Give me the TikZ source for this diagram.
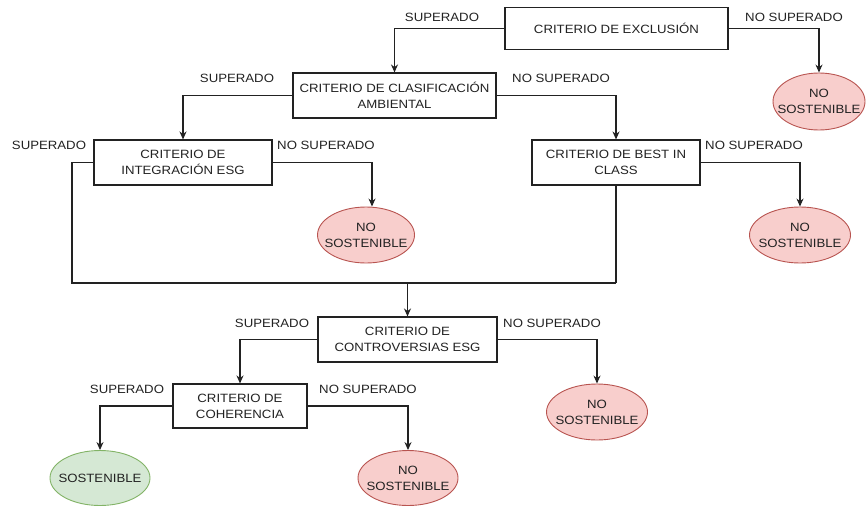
\documentclass[tikz,border=0pt]{standalone}
\usepackage{fontspec}
\setmainfont[FakeStretch=1.1]{Liberation Sans}
\usetikzlibrary{shapes.geometric,arrows.meta}
\definecolor{redfill}{HTML}{F8CECC}
\definecolor{redline}{HTML}{B85450}
\definecolor{greenfill}{HTML}{D5E8D4}
\definecolor{greenline}{HTML}{82B366}
\definecolor{ink}{HTML}{222222}
\begin{document}
\begin{tikzpicture}[x=1pt,y=-1pt,
  every node/.style={font=\fontsize{12}{16}\selectfont, text=ink},
  critbox/.style={draw=ink, line width=1.1pt, fill=white, rectangle, align=center, inner sep=2pt},
  nosost/.style={draw=redline, line width=0.9pt, fill=redfill, ellipse, inner sep=0pt,
     label={[align=center, inner sep=0pt, text=ink]center:NO\\SOSTENIBLE}},
  sost/.style={draw=greenline, line width=0.9pt, fill=greenfill, ellipse, inner sep=0pt,
     label={[inner sep=0pt, text=ink]center:SOSTENIBLE}},
  conn/.style={draw=ink, line width=1.1pt},
  arr/.style={conn, -{Stealth[length=8pt,width=7pt]}},
  lbl/.style={inner sep=0pt}
]
\useasboundingbox (0,0) rectangle (866,506);

% boxes
\node[critbox, minimum width=223pt, minimum height=42pt] (b1) at (616.5,28.5) {CRITERIO DE EXCLUSIÓN};
\node[critbox, minimum width=203pt, minimum height=45pt] (b2) at (394.5,95.5) {CRITERIO DE CLASIFICACIÓN\\AMBIENTAL};
\node[critbox, minimum width=178pt, minimum height=45pt] (b3) at (183,162.5) {CRITERIO DE\\INTEGRACIÓN ESG};
\node[critbox, minimum width=168pt, minimum height=45pt] (b4) at (616,162.5) {CRITERIO DE BEST IN\\CLASS};
\node[critbox, minimum width=179pt, minimum height=45pt] (b5) at (407.5,339.5) {CRITERIO DE\\CONTROVERSIAS ESG};
\node[critbox, minimum width=134pt, minimum height=44pt] (b6) at (240,406) {CRITERIO DE\\COHERENCIA};

% outcomes
\node[nosost, minimum width=92pt, minimum height=57pt] (e1) at (819,101.5) {};
\node[nosost, minimum width=97pt, minimum height=56pt] (e2) at (366,235) {};
\node[nosost, minimum width=101pt, minimum height=56pt] (e3) at (800,235) {};
\node[nosost, minimum width=101pt, minimum height=56pt] (e4) at (597,412) {};
\node[sost, minimum width=100pt, minimum height=55pt] (e5) at (100,478) {};
\node[nosost, minimum width=100pt, minimum height=55pt] (e6) at (408,478) {};

% merge points
\coordinate (m1) at (72,283);
\coordinate (m2) at (616,283);
\coordinate (m) at (407.5,283);

% connectors
\draw[arr] (b1.west) -| (b2.north);
\draw[arr] (b1.east) -| (e1.north);
\draw[arr] (b2.west) -| (b3.north);
\draw[arr] (b2.east) -| (b4.north);
\draw[arr] (b3.east) -| ([xshift=6pt]e2.north);
\draw[arr] (b4.east) -| (e3.north);
\draw[conn] (b3.west) -| (m1) -- (m2);
\draw[conn] (b4.south) -- (m2);
\draw[arr] (m) -- (b5.north);
\draw[arr] (b5.west) -| (b6.north);
\draw[arr] (b5.east) -| (e4.north);
\draw[arr] (b6.west) -| (e5.north);
\draw[arr] (b6.east) -| (e6.north);

% labels
\node[lbl] (l1) at (442,17) {SUPERADO};
\node[lbl] (l2) at (794,17) {NO SUPERADO};
\node[lbl] (l3) at (237,78) {SUPERADO};
\node[lbl] (l4) at (561,78) {NO SUPERADO};
\node[lbl] (l5) at (49,145) {SUPERADO};
\node[lbl] (l6) at (326,145) {NO SUPERADO};
\node[lbl] (l7) at (754,145) {NO SUPERADO};
\node[lbl] (l8) at (272,323) {SUPERADO};
\node[lbl] (l9) at (552,323) {NO SUPERADO};
\node[lbl] (l10) at (127,389) {SUPERADO};
\node[lbl] (l11) at (368,389) {NO SUPERADO};
\end{tikzpicture}
\end{document}
